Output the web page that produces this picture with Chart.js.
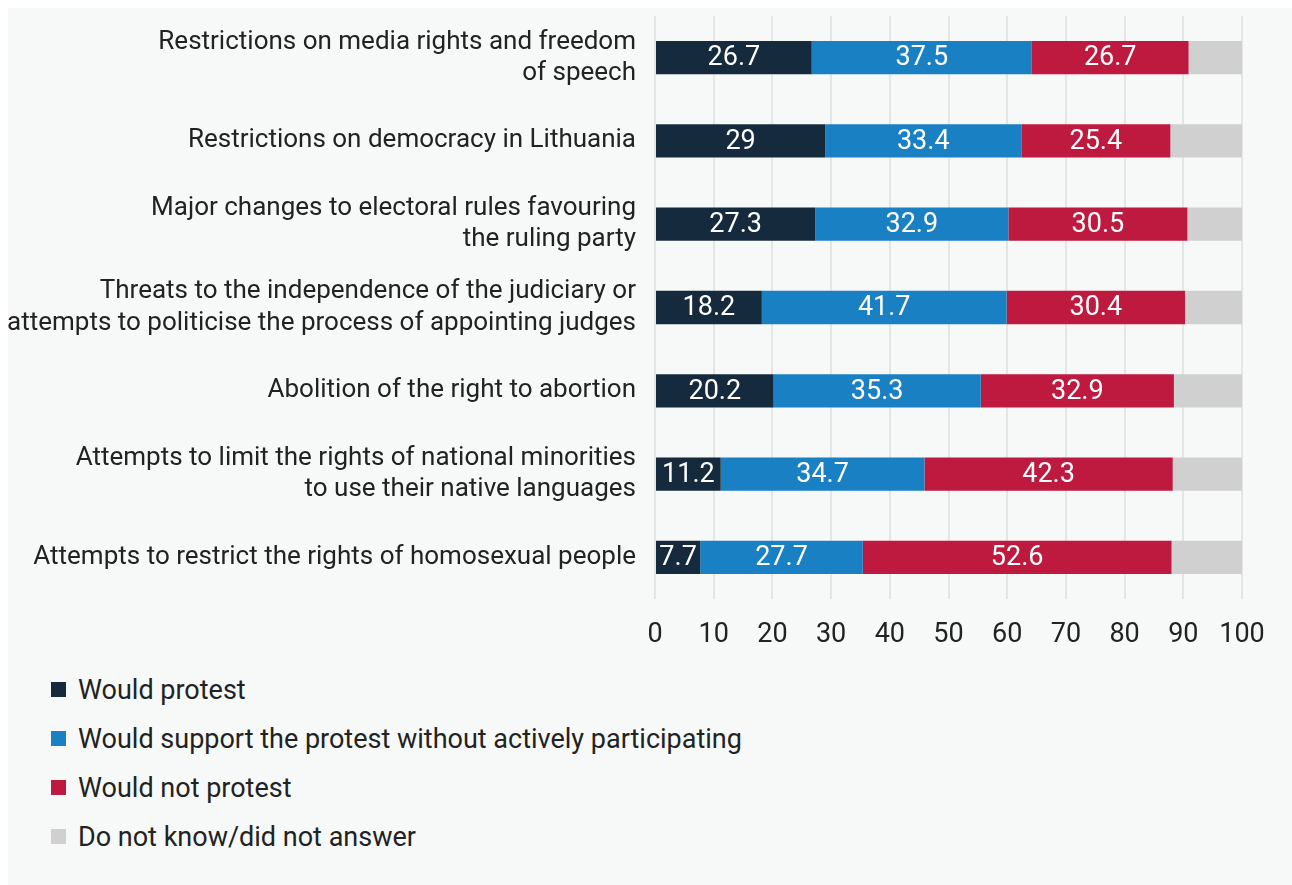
<!DOCTYPE html>
<html>
<head>
<meta charset="utf-8">
<script src="https://cdn.jsdelivr.net/npm/chart.js@4/dist/chart.umd.min.js"></script>
<style>
  html, body { margin: 0; padding: 0; background: #ffffff; }
  body { width: 1292px; height: 885px; position: relative; overflow: hidden; font-family: Roboto, "Noto Sans", sans-serif; }
  #panel { position: absolute; left: 8px; top: 8px; width: 1300px; height: 900px; background: #f7f9f9; }
  #chartBox { position: absolute; left: 0; top: 0; width: 1292px; height: 660px; }
  #legend { position: absolute; left: 51px; top: 665px; }
  .legend-item { height: 49px; display: flex; align-items: center; font-size: 27px; color: #222222; }
  .legend-item span.box { width: 15px; height: 15px; margin-right: 12px; display: inline-block; }
</style>
</head>
<body>
<div id="panel"></div>
<div id="chartBox"><canvas id="protestChart" width="1292" height="660"></canvas></div>
<div id="legend"></div>

<script>
// Danh mục (mỗi nhãn có thể xuống dòng)
const categories = [
  ['Restrictions on media rights and freedom', 'of speech'],
  'Restrictions on democracy in Lithuania',
  ['Major changes to electoral rules favouring', 'the ruling party'],
  ['Threats to the independence of the judiciary or', 'attempts to politicise the process of appointing judges'],
  'Abolition of the right to abortion',
  ['Attempts to limit the rights of national minorities', 'to use their native languages'],
  'Attempts to restrict the rights of homosexual people'
];

const seriesNames = [
  'Would protest',
  'Would support the protest without actively participating',
  'Would not protest',
  'Do not know/did not answer'
];

const wouldProtest = [26.7, 29, 27.3, 18.2, 20.2, 11.2, 7.7];
const wouldSupport = [37.5, 33.4, 32.9, 41.7, 35.3, 34.7, 27.7];
const wouldNotProtest = [26.7, 25.4, 30.5, 30.4, 32.9, 42.3, 52.6];
const dontKnow = [9.1, 12.2, 9.3, 9.7, 11.6, 11.8, 12.0];

const seriesColors = ['#152a3c', '#1a80c4', '#be1a3f', '#d0d0d0'];
const xTicks = [0, 10, 20, 30, 40, 50, 60, 70, 80, 90, 100];

const FONT = 'Roboto, "Noto Sans", sans-serif';

// Vẽ giá trị lên giữa từng đoạn cột (trừ nhóm "không biết")
const barValueLabels = {
  id: 'barValueLabels',
  afterDatasetsDraw(chart) {
    const ctx = chart.ctx;
    ctx.save();
    ctx.font = '27px ' + FONT;
    ctx.fillStyle = '#ffffff';
    ctx.textAlign = 'center';
    ctx.textBaseline = 'middle';
    chart.data.datasets.forEach((ds, i) => {
      if (!ds.showValue) return;
      const meta = chart.getDatasetMeta(i);
      meta.data.forEach((bar, j) => {
        const x = (bar.x + bar.base) / 2;
        ctx.fillText(String(ds.data[j]), x, bar.y + 1);
      });
    });
    ctx.restore();
  }
};

function buildDatasets() {
  const values = [wouldProtest, wouldSupport, wouldNotProtest, dontKnow];
  return values.map((data, i) => ({
    label: seriesNames[i],
    data: data,
    backgroundColor: seriesColors[i],
    borderWidth: 0,
    barPercentage: 0.4,
    categoryPercentage: 1.0,
    showValue: i < 3
  }));
}

function renderLegend() {
  const box = document.getElementById('legend');
  seriesNames.forEach((name, i) => {
    const item = document.createElement('div');
    item.className = 'legend-item';
    item.innerHTML = '<span class="box" style="background:' + seriesColors[i] + '"></span>' + name;
    box.appendChild(item);
  });
}

function initChart() {
  const ctx = document.getElementById('protestChart').getContext('2d');
  new Chart(ctx, {
    type: 'bar',
    data: {
      labels: categories,
      datasets: buildDatasets()
    },
    options: {
      indexAxis: 'y',
      responsive: false,
      animation: false,
      layout: { padding: { top: 16, right: 50, left: 0, bottom: 0 } },
      plugins: {
        legend: { display: false },
        tooltip: { enabled: false }
      },
      scales: {
        x: {
          stacked: true,
          min: 0,
          max: 100,
          afterBuildTicks(scale) {
            scale.ticks = xTicks.map(v => ({ value: v }));
          },
          afterFit(scale) {
            scale.height = 61;
            scale.paddingLeft = 0;
            scale.paddingRight = 0;
          },
          grid: { color: '#e4e6e6', lineWidth: 2, drawTicks: false },
          border: { display: false },
          ticks: {
            padding: 20,
            color: '#222222',
            font: { family: FONT, size: 27 }
          }
        },
        y: {
          stacked: true,
          afterFit(scale) {
            scale.width = 655;
            // nhãn nhiều dòng không được đẩy vùng vẽ xuống
            scale.paddingTop = 0;
            scale.paddingBottom = 0;
          },
          grid: { display: false, drawTicks: false },
          border: { display: false },
          ticks: {
            padding: 19,
            color: '#222222',
            font: { family: FONT, size: 26, lineHeight: 1.2 }
          }
        }
      }
    },
    plugins: [barValueLabels]
  });
}

renderLegend();
initChart();
</script>
</body>
</html>
